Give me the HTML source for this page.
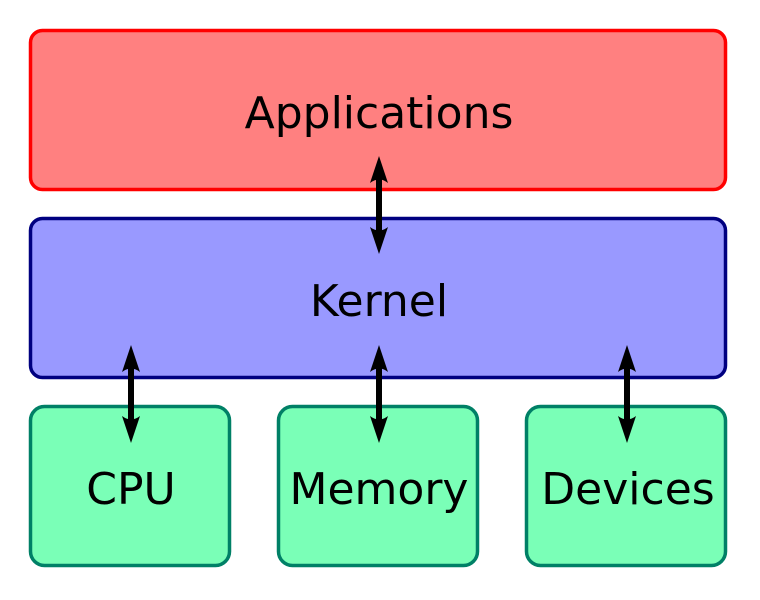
<!DOCTYPE html>
<html><head><meta charset="utf-8"><style>
html,body{margin:0;padding:0;background:#fff;}
svg{display:block;}
text{font-family:"DejaVu Sans","Liberation Sans",sans-serif;font-size:44px;fill:#000;text-anchor:middle;}
</style></head><body>
<svg width="760" height="600" viewBox="0 0 760 600" xmlns="http://www.w3.org/2000/svg">
<defs>
<g id="arr">
<rect x="-3" y="18" width="6" height="62" fill="#000"/>
<path d="M0 0 L9 27 Q0 20 -9 27 Z" fill="#000"/>
<path d="M0 98 L9 71 Q0 78 -9 71 Z" fill="#000"/>
</g>
</defs>
<rect x="30.5" y="30.5" width="695" height="159" rx="12" fill="#ff8080" stroke="#ff0000" stroke-width="3.5"/>
<rect x="30.5" y="218.5" width="695" height="159" rx="12" fill="#9999ff" stroke="#000080" stroke-width="3.5"/>
<rect x="30.5" y="406.5" width="199" height="159" rx="14" fill="#7affb7" stroke="#008066" stroke-width="3.5"/>
<rect x="278.5" y="406.5" width="199" height="159" rx="14" fill="#7affb7" stroke="#008066" stroke-width="3.5"/>
<rect x="526.5" y="406.5" width="199" height="159" rx="14" fill="#7affb7" stroke="#008066" stroke-width="3.5"/>
<text x="379" y="128">Applications</text>
<text x="379" y="316">Kernel</text>
<text x="131" y="504">CPU</text>
<text x="379" y="504">Memory</text>
<text x="628" y="504">Devices</text>
<use href="#arr" transform="translate(379,156)"/>
<use href="#arr" transform="translate(131,345)"/>
<use href="#arr" transform="translate(379,345)"/>
<use href="#arr" transform="translate(627,345)"/>
</svg>
</body></html>
